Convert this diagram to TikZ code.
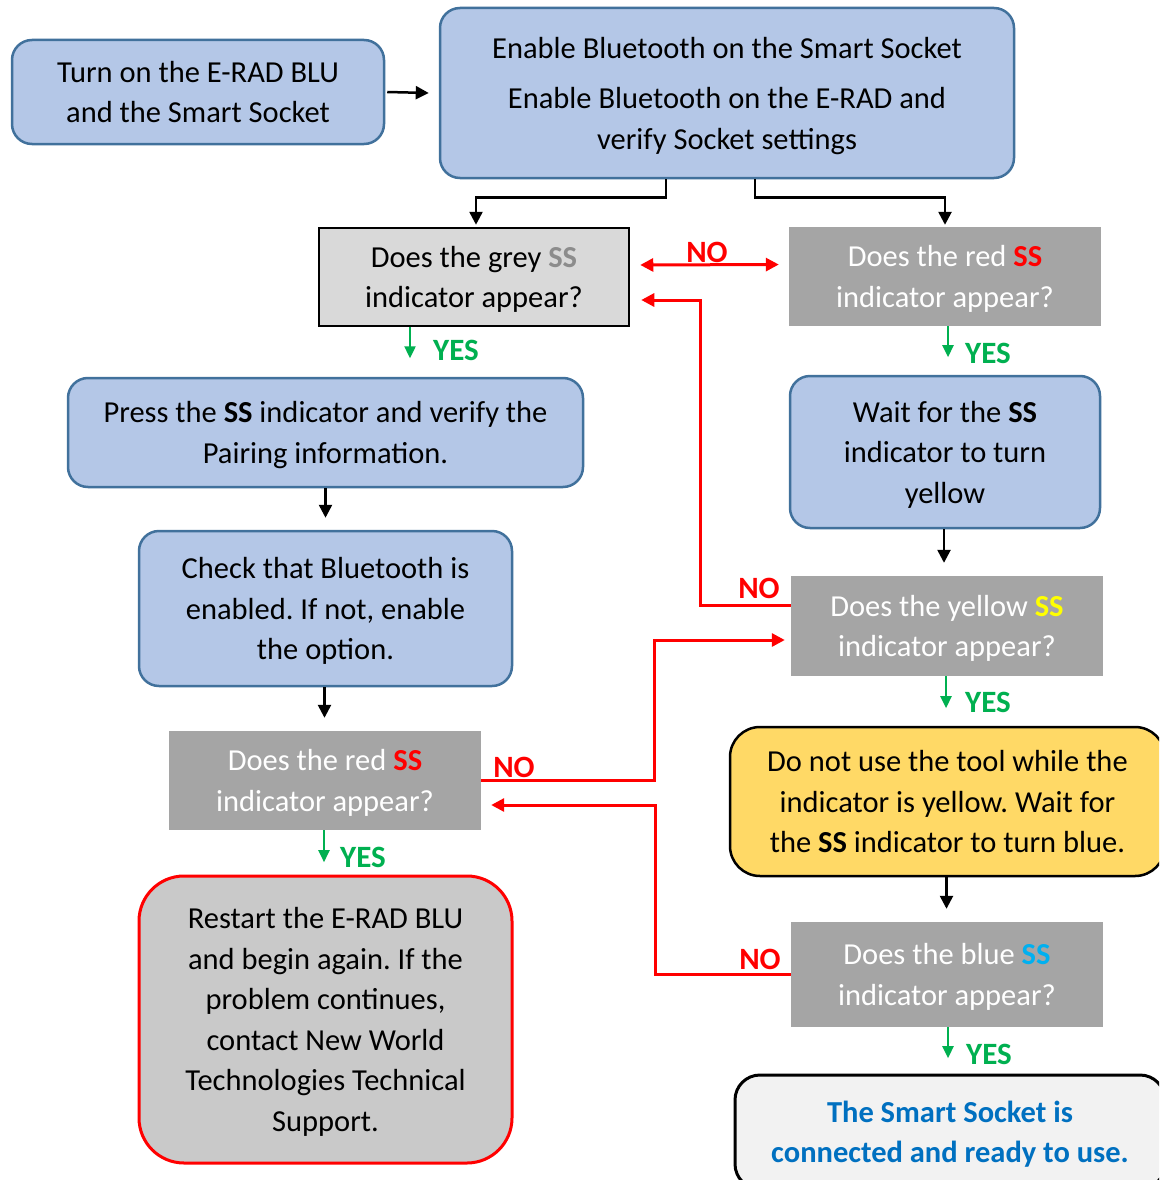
\documentclass[tikz,border=0pt]{standalone}
\usepackage{fontspec}
\setmainfont{Carlito}
\usetikzlibrary{arrows.meta}
\definecolor{bfill}{HTML}{B4C7E7}
\definecolor{bdraw}{HTML}{41719C}
\definecolor{dgrey}{HTML}{A5A5A5}
\definecolor{lgrey}{HTML}{D9D9D9}
\definecolor{rgrey}{HTML}{C9C9C9}
\definecolor{yfill}{HTML}{FFD966}
\definecolor{ffill}{HTML}{F2F2F2}
\definecolor{ftext}{HTML}{0070C0}
\definecolor{grn}{HTML}{00B050}
\definecolor{rd}{HTML}{FF0000}
\definecolor{ssgrey}{HTML}{8C8C8C}
\definecolor{ssyel}{HTML}{FFFF00}
\definecolor{ssblue}{HTML}{00B0F0}
\begin{document}
\frenchspacing
\begin{tikzpicture}[x=1pt,y=-1pt,
  every node/.style={font=\fontsize{30.5}{40.5}\selectfont, align=center, inner sep=0pt},
  boxtext/.style={text depth=0pt},
  bluebox/.style={boxtext, draw=bdraw, fill=bfill, line width=2.5pt, rounded corners=20pt},
  dqbox/.style={boxtext, fill=dgrey, text=white},
  blk/.style={draw=black, line width=2.5pt, -{Triangle[length=13pt,width=13pt]}},
  redarr/.style={draw=rd, line width=3pt, -{Triangle[length=13pt,width=13pt]}},
  grnarr/.style={draw=grn, line width=2.4pt, -{Triangle[length=12pt,width=11pt]}},
  nolab/.style={text=rd, font=\fontsize{31}{32}\selectfont\bfseries},
  yeslab/.style={text=grn, font=\fontsize{31}{32}\selectfont\bfseries},
]
\useasboundingbox (0,0) rectangle (1159,1180);
\clip (0,0) rectangle (1159,1180);
\fill[white] (0,0) rectangle (1159,1180);

% nodes
\node[bluebox, minimum width=372pt, minimum height=104pt] (start) at (198,92) {Turn on the E-RAD BLU\\and the Smart Socket};
\node[bluebox, minimum width=574pt, minimum height=170pt] (enable) at (727,93) {Enable Bluetooth on the Smart Socket\\[10pt]Enable Bluetooth on the E-RAD and\\verify Socket settings};
\node[boxtext, draw=black, fill=lgrey, line width=2.5pt, minimum width=310pt, minimum height=98pt] (grey) at (474,277) {Does the grey \textbf{\color{ssgrey}SS}\\indicator appear?};
\node[dqbox, minimum width=312pt, minimum height=99pt] (redR) at (945,276.5) {Does the red \textbf{\color{rd}SS}\\indicator appear?};
\node[bluebox, minimum width=515pt, minimum height=109pt] (press) at (325.5,432.5) {Press the \textbf{SS} indicator and verify the\\Pairing information.};
\node[bluebox, minimum width=310pt, minimum height=152pt] (wait) at (945,452) {Wait for the \textbf{SS}\\indicator to turn\\yellow};
\node[bluebox, minimum width=373pt, minimum height=155pt] (check) at (325.5,608.5) {Check that Bluetooth is\\enabled. If not, enable\\the option.};
\node[dqbox, minimum width=312pt, minimum height=100pt] (ySS) at (947,626) {Does the yellow \textbf{\color{ssyel}SS}\\indicator appear?};
\node[dqbox, minimum width=312pt, minimum height=99pt] (redL) at (325,780.5) {Does the red \textbf{\color{rd}SS}\\indicator appear?};
\node[boxtext, draw=black, fill=yfill, line width=2.5pt, rounded corners=30pt, minimum width=435pt, minimum height=149pt] (warn) at (947.5,801.5) {Do not use the tool while the\\indicator is yellow. Wait for\\the \textbf{SS} indicator to turn blue.};
\node[boxtext, draw=rd, fill=rgrey, line width=3pt, rounded corners=45pt, minimum width=373pt, minimum height=287pt] (restart) at (325.5,1019.5) {Restart the E-RAD BLU\\and begin again. If the\\problem continues,\\contact New World\\Technologies Technical\\Support.};
\node[dqbox, minimum width=312pt, minimum height=105pt] (bSS) at (947,974.5) {Does the blue \textbf{\color{ssblue}SS}\\indicator appear?};
\node[boxtext, draw=black, fill=ffill, line width=3pt, rounded corners=25pt, minimum width=430pt, minimum height=114pt, text=ftext, font=\fontsize{30.5}{40.5}\selectfont\bfseries] (final) at (950,1132) {The Smart Socket is\\connected and ready to use.};

% black connectors
\draw[blk] ([xshift=2pt]start.east) -- ([xshift=-10pt]enable.west);
\draw[blk] ([xshift=-61pt]enable.south) -- ++(0,18) -| ([xshift=2pt,yshift=2pt]grey.north);
\draw[blk] ([xshift=28pt]enable.south) -- ++(0,18) -| ([yshift=2pt]redR.north);
\draw[blk] (press.south) -- ([yshift=12pt]press.south |- check.north);
\draw[blk] ([xshift=-1pt]wait.south) -- ([xshift=-1pt,yshift=13pt]wait.south |- ySS.north);
\draw[blk] ([xshift=-1pt]check.south) -- ([xshift=-1pt,yshift=13pt]check.south |- redL.north);
\draw[blk] ([xshift=-1pt]warn.south) -- ([xshift=-1pt,yshift=13pt]warn.south |- bSS.north);

% red connectors
\draw[redarr, {Triangle[length=13pt,width=13pt]}-{Triangle[length=13pt,width=13pt]}, shorten <=10pt, shorten >=10pt] ([yshift=12pt]grey.east) -- ([yshift=12pt]redR.west);
\draw[redarr, shorten >=11pt] ([yshift=21pt]ySS.west) -| ([xshift=70pt,yshift=-23pt]grey.east) -- ([yshift=-23pt]grey.east);
\draw[redarr, shorten >=6pt] (redL.east) -| ([xshift=-136pt,yshift=-14pt]ySS.west) -- ([yshift=-14pt]ySS.west);
\draw[redarr, shorten >=10pt] (bSS.west) -| ([xshift=174pt,yshift=-24.5pt]redL.east) -- ([yshift=-24.5pt]redL.east);

% green connectors
\draw[grnarr] ([xshift=-64pt]grey.south) -- ++(0,31);
\draw[grnarr] ([xshift=3pt]redR.south) -- ++(0,31);
\draw[grnarr] ([xshift=-1pt]ySS.south) -- ++(0,32);
\draw[grnarr] ([xshift=-1pt]redL.south) -- ++(0,32);
\draw[grnarr] ([xshift=1pt]bSS.south) -- ++(0,31);

% labels
\node[nolab] (no1) at (707,252) {NO};
\node[nolab] (no2) at (759,588) {NO};
\node[nolab] (no3) at (514,767) {NO};
\node[nolab] (no4) at (760,959) {NO};
\node[yeslab] (yes1) at (456,350) {YES};
\node[yeslab] (yes2) at (988,353) {YES};
\node[yeslab] (yes3) at (988,702) {YES};
\node[yeslab] (yes4) at (363,857) {YES};
\node[yeslab] (yes5) at (989,1054) {YES};
\end{tikzpicture}
\end{document}
